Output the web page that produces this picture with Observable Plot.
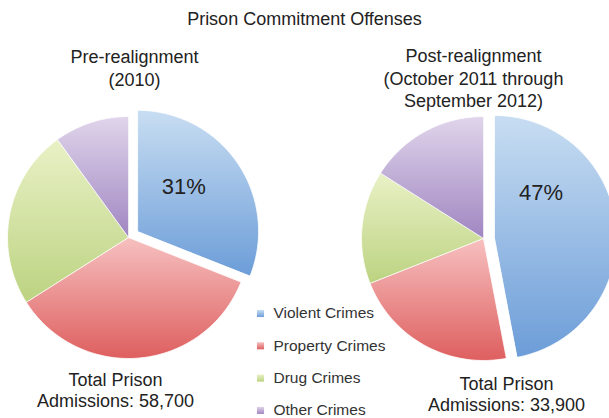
<!DOCTYPE html>
<html>
<head>
<meta charset="utf-8">
<script src="https://cdn.jsdelivr.net/npm/d3@7"></script>
<script src="https://cdn.jsdelivr.net/npm/@observablehq/plot@0.6"></script>
<style>
  html, body { margin: 0; padding: 0; background: #fff; overflow: hidden; }
</style>
</head>
<body>
<div id="chart"></div>
<script>
// ---- data ----
const chartTitle = "Prison Commitment Offenses";
const categories = ["Violent Crimes", "Property Crimes", "Drug Crimes", "Other Crimes"];
const preValues = [31, 35, 24, 10];   // Pre-realignment (2010), percent
const postValues = [47, 22, 15, 16];  // Post-realignment (Oct 2011 - Sep 2012), percent
const pieTitles = ["Pre-realignment\n(2010)", "Post-realignment\n(October 2011 through\nSeptember 2012)"];
const totalLabels = ["Total Prison\nAdmissions: 58,700", "Total Prison\nAdmissions: 33,900"];
const colorsTop = ["#c8ddf2", "#f7c0c0", "#e9f1c6", "#e0d5eb"];
const colorsBottom = ["#6c9dd8", "#de5f5f", "#bcd381", "#a086c1"];

// ---- layout ----
const W = 609, H = 418;
const pies = [
  {values: preValues, cx: 128, cy: 237, r: 121, title: pieTitles[0], tx: 134, ty: 47, total: totalLabels[0], bx: 115, by: 370},
  {values: postValues, cx: 483, cy: 238, r: 122, title: pieTitles[1], tx: 473, ty: 46, total: totalLabels[1], bx: 506, by: 374}
];
const explode = 11;
const labelAngle = 46 * Math.PI / 180, labelFrac = 0.53;

const slices = [];
const pctLabels = [];
pies.forEach((p, pi) => {
  const total = d3.sum(p.values);
  let a0 = 0;
  p.values.forEach((v, i) => {
    const a1 = a0 + v / total * 2 * Math.PI;
    const mid = (a0 + a1) / 2;
    const off = i === 0 ? explode : 0;
    const ox = p.cx + off * Math.sin(mid), oy = p.cy - off * Math.cos(mid);
    const id = pi + "-" + i;
    slices.push({id, cat: categories[i], x: ox, y: oy});
    const n = Math.max(2, Math.ceil((a1 - a0) / (Math.PI / 120)));
    for (let k = 0; k <= n; k++) {
      const a = a0 + (a1 - a0) * k / n;
      slices.push({id, cat: categories[i], x: ox + p.r * Math.sin(a), y: oy - p.r * Math.cos(a)});
    }
    if (i === 0) {
      pctLabels.push({
        text: Math.round(v / total * 100) + "%",
        x: ox + labelFrac * p.r * Math.sin(labelAngle),
        y: oy - labelFrac * p.r * Math.cos(labelAngle)
      });
    }
    a0 = a1;
  });
});

const plot = Plot.plot({
  width: W, height: H,
  margin: 0,
  x: {domain: [0, W], range: [0, W], axis: null},
  y: {domain: [0, H], range: [0, H], axis: null},
  color: {domain: categories, range: categories.map((c, i) => `url(#grad${i})`)},
  style: {fontFamily: "'Liberation Sans', Arial, sans-serif", background: "white", overflow: "hidden"},
  marks: [
    Plot.line(slices, {x: "x", y: "y", z: "id", fill: "cat", stroke: "white", strokeWidth: 1, strokeOpacity: 0.8, curve: "linear-closed"}),
    Plot.text(pctLabels, {x: "x", y: "y", text: "text", fontSize: 22, fill: "#222"}),
    Plot.text([chartTitle], {x: () => 304, y: () => 12, text: d => d, lineAnchor: "top", fontSize: 18, fill: "#222"}),
    Plot.text(pies, {x: "tx", y: "ty", text: "title", lineAnchor: "top", lineHeight: 1.25, fontSize: 18, fill: "#222"}),
    Plot.text(pies, {x: "bx", y: "by", text: "total", lineAnchor: "top", lineHeight: 1.2, fontSize: 18, fill: "#222"}),
    Plot.dot(categories, {x: () => 260, y: (d, i) => 313 + i * 32.3, symbol: "square", r: 4, fill: d => d}),
    Plot.text(categories, {x: () => 273, y: (d, i) => 313 + i * 32.3, text: d => d, textAnchor: "start", fontSize: 15.5, fill: "#333"})
  ]
});

const svg = d3.select(plot.tagName.toLowerCase() === "svg" ? plot : plot.querySelector("svg"));
const defs = svg.insert("defs", ":first-child");
categories.forEach((c, i) => {
  const g = defs.append("linearGradient").attr("id", "grad" + i)
    .attr("x1", 0).attr("y1", 0).attr("x2", 0).attr("y2", 1);
  g.append("stop").attr("offset", "0%").attr("stop-color", colorsTop[i]);
  g.append("stop").attr("offset", "100%").attr("stop-color", colorsBottom[i]);
});

document.getElementById("chart").appendChild(plot);
</script>
</body>
</html>
